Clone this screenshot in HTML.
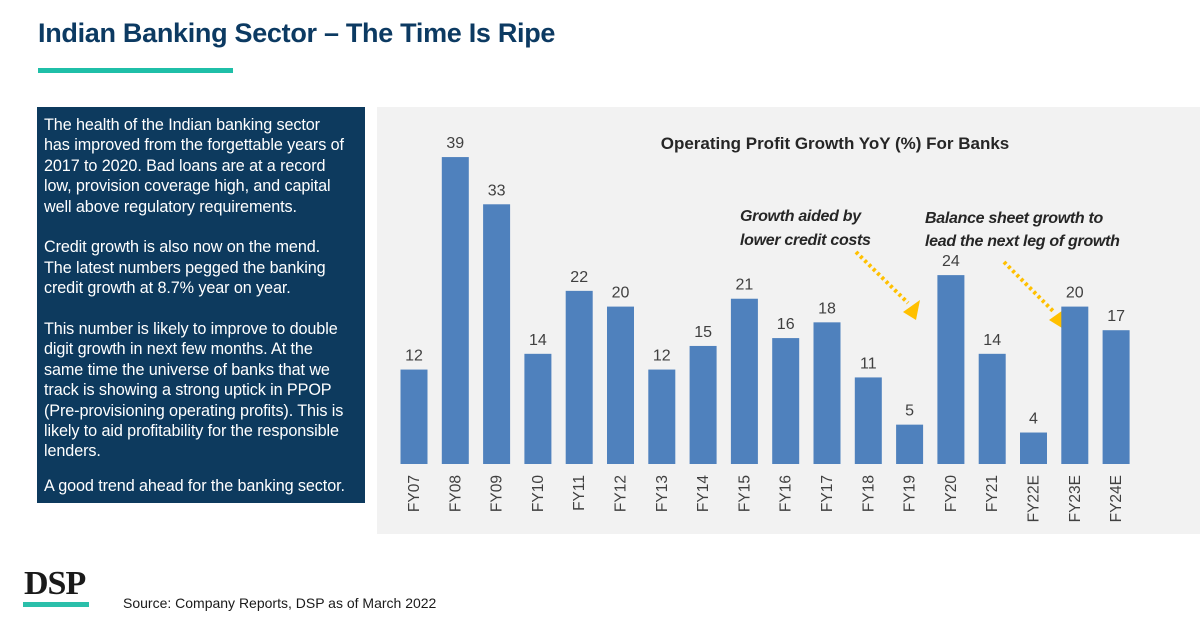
<!DOCTYPE html>
<html><head><meta charset="utf-8"><style>
body{margin:0;width:1200px;height:628px;background:#fff;font-family:"Liberation Sans",Calibri,sans-serif;overflow:hidden;position:relative}
.t{position:absolute}
#box p{white-space:nowrap}
</style></head><body>
<div class="t" style="left:38px;top:18px;font-size:27px;font-weight:bold;color:#0c3a62;letter-spacing:-0.3px">Indian Banking Sector – The Time Is Ripe</div>
<div class="t" style="left:38px;top:68px;width:195px;height:5px;background:#1fbfa8"></div>
<div class="t" id="box" style="left:37px;top:107px;width:328px;height:396px;background:#0d3a5e;color:#fff;font-size:16.2px;letter-spacing:-0.1px;line-height:20.4px;padding:8px 0 0 7px;box-sizing:border-box;overflow:hidden">
<p style="margin:0 0 20.4px">The health of the Indian banking sector<br>has improved from the forgettable years of<br>2017 to 2020. Bad loans are at a record<br>low, provision coverage high, and capital<br>well above regulatory requirements.</p>
<p style="margin:0 0 20.4px">Credit growth is also now on the mend.<br>The latest numbers pegged the banking<br>credit growth at 8.7% year on year.</p>
<p style="margin:0 0 14px">This number is likely to improve to double<br>digit growth in next few months. At the<br>same time the universe of banks that we<br>track is showing a strong uptick in PPOP<br>(Pre-provisioning operating profits). This is<br>likely to aid profitability for the responsible<br>lenders.</p>
<p style="margin:0">A good trend ahead for the banking sector.</p>
</div>
<svg class="t" style="left:0;top:0" width="1200" height="628" id="chart">
<rect x="377" y="107" width="823" height="427" fill="#f2f2f2"/>
<text x="835" y="149" text-anchor="middle" font-size="17" font-weight="bold" fill="#262626">Operating Profit Growth YoY (%) For Banks</text>
<g font-size="16" font-weight="bold" font-style="italic" fill="#262626" letter-spacing="-0.3">
<text x="740" y="221">Growth aided by</text><text x="740" y="245">lower credit costs</text>
<text x="925" y="223">Balance sheet growth to</text><text x="925" y="246">lead the next leg of growth</text>
</g>
<g stroke="#ffc000" stroke-width="4" stroke-dasharray="3,3" fill="none">
<line x1="856" y1="252" x2="908" y2="303"/><line x1="1004" y1="262" x2="1054" y2="312"/>
</g>
<polygon points="903,312 920,300 916,320" fill="#ffc000"/>
<polygon points="1049,320 1066,308 1062,328" fill="#ffc000"/>
<g id="bars"></g>
</svg>
<div class="t" style="left:24px;top:567px;font-family:'Liberation Serif',serif;font-weight:bold;font-size:34px;color:#1a1a1a;letter-spacing:-1px;line-height:34px">DSP</div>
<div class="t" style="left:23px;top:602px;width:66px;height:5px;background:#2bbfaa"></div>
<div class="t" style="left:123px;top:595px;font-size:14px;color:#1a1a1a">Source: Company Reports, DSP as of March 2022</div>
<script>
const categories=["FY07","FY08","FY09","FY10","FY11","FY12","FY13","FY14","FY15","FY16","FY17","FY18","FY19","FY20","FY21","FY22E","FY23E","FY24E"];
const values=[12,39,33,14,22,20,12,15,21,16,18,11,5,24,14,4,20,17];
const base=464,scale=7.87,x0=414,step=41.3,bw=27;
const y=v=>base-v*scale, x=i=>x0+i*step;
const g=document.getElementById('bars');const ns="http://www.w3.org/2000/svg";
values.forEach((v,i)=>{
 const r=document.createElementNS(ns,'rect');
 r.setAttribute('x',x(i)-bw/2);r.setAttribute('y',y(v));r.setAttribute('width',bw);r.setAttribute('height',v*scale);r.setAttribute('fill','#4f81bd');
 
 
 g.appendChild(r);
 const t=document.createElementNS(ns,'text');
 t.setAttribute('x',x(i));t.setAttribute('y',y(v)-9);t.setAttribute('text-anchor','middle');t.setAttribute('font-size','16');t.setAttribute('fill','#404040');t.textContent=v;
 
 
 g.appendChild(t);
 const c=document.createElementNS(ns,'text');
 c.setAttribute('transform','translate('+(x(i)+5)+',475) rotate(-90)');c.setAttribute('text-anchor','end');c.setAttribute('font-size','15.5');c.setAttribute('fill','#404040');c.textContent=categories[i];
 
 
 g.appendChild(c);
});
</script>
</body></html>
